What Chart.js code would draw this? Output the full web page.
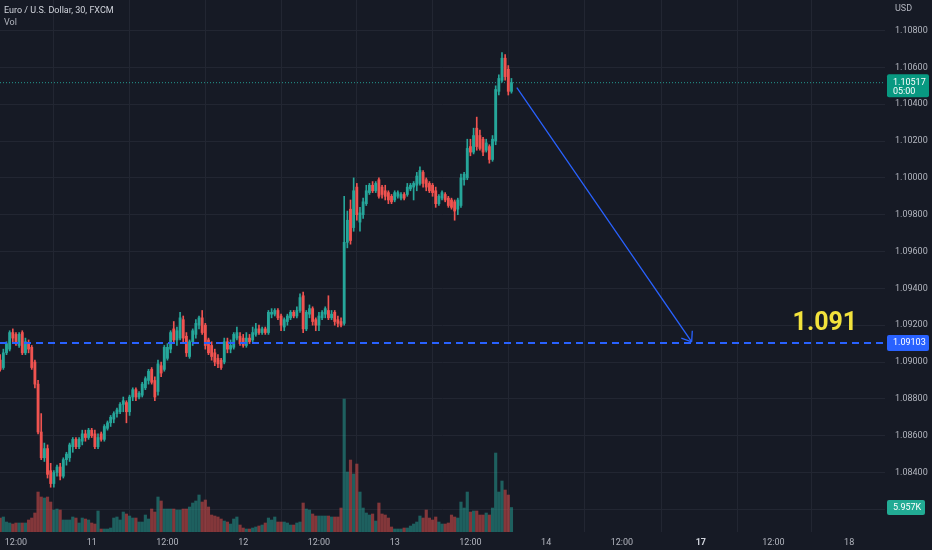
<!DOCTYPE html>
<html>
<head>
<meta charset="utf-8">
<title>EUR/USD 30m</title>
<script src="https://cdn.jsdelivr.net/npm/chart.js@4.4.1/dist/chart.umd.min.js"></script>
<style>
  html, body { margin: 0; padding: 0; background: #161a25; }
  #wrap { position: relative; width: 932px; height: 550px; overflow: hidden; }
  #chart { position: absolute; left: 0; top: 0; }
  .legend { position: absolute; left: 4px; top: 4px; font: 9px Roboto, "Noto Sans", sans-serif; line-height: 12px; color: #b2b5be; }
  .legend .sym { color: #d1d4dc; }
</style>
</head>
<body>
<div id="wrap">
  <canvas id="chart" width="932" height="550"></canvas>
  <div class="legend"><div class="sym">Euro / U.S. Dollar, 30, FXCM</div><div>Vol</div></div>
</div>
<script>
// --- data: 30 min candles, first bar = 10th 09:30, one slot per bar ---
const opens = [
  1.0901, 1.0897, 1.0905, 1.0907, 1.0916, 1.0915, 1.0909, 1.0916, 1.0905, 1.0910,
  1.0908, 1.0900, 1.0888, 1.0862, 1.0848, 1.0853, 1.0841, 1.0834, 1.0840, 1.0843,
  1.0838, 1.0847, 1.0848, 1.0854, 1.0858, 1.0854, 1.0857, 1.0861, 1.0859, 1.0863,
  1.0861, 1.0854, 1.0861, 1.0858, 1.0864, 1.0867, 1.0869, 1.0872, 1.0873, 1.0877,
  1.0878, 1.0873, 1.0881, 1.0885, 1.0881, 1.0882, 1.0886, 1.0890, 1.0896, 1.0890,
  1.0884, 1.0898, 1.0896, 1.0902, 1.0907, 1.0918, 1.0912, 1.0913, 1.0923, 1.0914,
  1.0903, 1.0911, 1.0915, 1.0920, 1.0924, 1.0920, 1.0912, 1.0909, 1.0905, 1.0902,
  1.0901, 1.0900, 1.0911, 1.0907, 1.0908, 1.0913, 1.0914, 1.0913, 1.0909, 1.0913,
  1.0912, 1.0915, 1.0918, 1.0916, 1.0918, 1.0916, 1.0926, 1.0926, 1.0928, 1.0925,
  1.0919, 1.0922, 1.0924, 1.0927, 1.0925, 1.0928, 1.0936, 1.0918, 1.0926, 1.0929,
  1.0923, 1.0920, 1.0924, 1.0926, 1.0928, 1.0924, 1.0927, 1.0923, 1.0922, 1.0921,
  1.0965, 1.0983, 1.0973, 1.0995, 1.0976, 1.0980, 1.0986, 1.0992, 1.0996, 1.0993,
  1.0999, 1.0995, 1.0993, 1.0992, 1.0990, 1.0988, 1.0990, 1.0989, 1.0991, 1.0991,
  1.0994, 1.0995, 1.0996, 1.0997, 1.1003, 1.0999, 1.0997, 1.0996, 1.0993, 1.0986,
  1.0989, 1.0991, 1.0989, 1.0988, 1.0987, 1.0983, 1.0985, 1.0999, 1.1000, 1.1017,
  1.1014, 1.1027, 1.1023, 1.1021, 1.1015, 1.1017, 1.1010, 1.1020, 1.1047, 1.1053,
  1.1065, 1.1059, 1.1047
];
const highs = [
  1.0904, 1.0907, 1.0911, 1.0917, 1.0918, 1.0916, 1.0916, 1.0917, 1.0913, 1.0912,
  1.0909, 1.0901, 1.0890, 1.0872, 1.0856, 1.0855, 1.0845, 1.0841, 1.0844, 1.0845,
  1.0848, 1.0851, 1.0856, 1.0859, 1.0859, 1.0859, 1.0863, 1.0863, 1.0864, 1.0864,
  1.0863, 1.0861, 1.0862, 1.0866, 1.0868, 1.0871, 1.0873, 1.0875, 1.0878, 1.0881,
  1.0879, 1.0882, 1.0886, 1.0886, 1.0884, 1.0889, 1.0892, 1.0896, 1.0897, 1.0892,
  1.0901, 1.0900, 1.0909, 1.0910, 1.0917, 1.0922, 1.0919, 1.0927, 1.0925, 1.0916,
  1.0912, 1.0918, 1.0923, 1.0925, 1.0928, 1.0921, 1.0913, 1.0911, 1.0907, 1.0904,
  1.0902, 1.0913, 1.0913, 1.0912, 1.0916, 1.0919, 1.0916, 1.0915, 1.0916, 1.0915,
  1.0919, 1.0921, 1.0920, 1.0919, 1.0919, 1.0928, 1.0929, 1.0929, 1.0929, 1.0926,
  1.0924, 1.0926, 1.0928, 1.0928, 1.0930, 1.0937, 1.0938, 1.0928, 1.0931, 1.0930,
  1.0924, 1.0927, 1.0928, 1.0930, 1.0936, 1.0928, 1.0928, 1.0925, 1.0924, 1.0990,
  1.0982, 1.0988, 1.1000, 1.0997, 1.0984, 1.0989, 1.0996, 1.0997, 1.0998, 1.0998,
  1.1000, 1.0996, 1.0996, 1.0993, 1.0991, 1.0993, 1.0993, 1.0992, 1.0992, 1.0997,
  1.0997, 1.0998, 1.1003, 1.1006, 1.1004, 1.1000, 1.0998, 1.0997, 1.0995, 1.0991,
  1.0993, 1.0992, 1.0990, 1.0989, 1.0988, 1.0989, 1.1002, 1.1003, 1.1021, 1.1021,
  1.1027, 1.1033, 1.1026, 1.1022, 1.1021, 1.1018, 1.1023, 1.1050, 1.1056, 1.1068,
  1.1067, 1.1061, 1.1054
];
const lows = [
  1.0895, 1.0896, 1.0904, 1.0906, 1.0911, 1.0909, 1.0908, 1.0904, 1.0904, 1.0905,
  1.0896, 1.0886, 1.0861, 1.0847, 1.0846, 1.0837, 1.0832, 1.0832, 1.0838, 1.0836,
  1.0837, 1.0844, 1.0846, 1.0851, 1.0853, 1.0853, 1.0855, 1.0857, 1.0858, 1.0859,
  1.0853, 1.0853, 1.0857, 1.0857, 1.0863, 1.0865, 1.0867, 1.0870, 1.0872, 1.0873,
  1.0867, 1.0871, 1.0879, 1.0879, 1.0880, 1.0881, 1.0885, 1.0888, 1.0888, 1.0879,
  1.0882, 1.0892, 1.0895, 1.0901, 1.0905, 1.0910, 1.0909, 1.0912, 1.0911, 1.0903,
  1.0902, 1.0909, 1.0913, 1.0918, 1.0915, 1.0907, 1.0904, 1.0901, 1.0898, 1.0897,
  1.0896, 1.0899, 1.0905, 1.0905, 1.0907, 1.0912, 1.0909, 1.0908, 1.0908, 1.0910,
  1.0911, 1.0914, 1.0915, 1.0915, 1.0915, 1.0915, 1.0924, 1.0925, 1.0923, 1.0917,
  1.0917, 1.0920, 1.0923, 1.0924, 1.0924, 1.0927, 1.0916, 1.0917, 1.0924, 1.0920,
  1.0917, 1.0917, 1.0923, 1.0924, 1.0923, 1.0923, 1.0920, 1.0919, 1.0919, 1.0920,
  1.0962, 1.0964, 1.0971, 1.0977, 1.0971, 1.0978, 1.0985, 1.0991, 1.0992, 1.0992,
  1.0989, 1.0989, 1.0988, 1.0986, 1.0986, 1.0987, 1.0989, 1.0988, 1.0988, 1.0990,
  1.0993, 1.0988, 1.0993, 1.0996, 1.0995, 1.0993, 1.0992, 1.0990, 1.0984, 1.0985,
  1.0988, 1.0987, 1.0984, 1.0983, 1.0977, 1.0980, 1.0984, 1.0996, 1.0999, 1.1012,
  1.1013, 1.1015, 1.1015, 1.1012, 1.1014, 1.1008, 1.1009, 1.1018, 1.1045, 1.1052,
  1.1053, 1.1045, 1.1046
];
const closes = [
  1.0896, 1.0905, 1.0910, 1.0916, 1.0913, 1.0910, 1.0915, 1.0905, 1.0911, 1.0907,
  1.0897, 1.0888, 1.0862, 1.0848, 1.0853, 1.0839, 1.0834, 1.0840, 1.0843, 1.0838,
  1.0847, 1.0850, 1.0855, 1.0858, 1.0854, 1.0858, 1.0861, 1.0859, 1.0863, 1.0860,
  1.0854, 1.0859, 1.0858, 1.0865, 1.0867, 1.0870, 1.0872, 1.0874, 1.0877, 1.0879,
  1.0873, 1.0881, 1.0885, 1.0881, 1.0883, 1.0888, 1.0891, 1.0895, 1.0889, 1.0881,
  1.0899, 1.0894, 1.0908, 1.0908, 1.0916, 1.0912, 1.0917, 1.0924, 1.0913, 1.0905,
  1.0911, 1.0917, 1.0921, 1.0924, 1.0916, 1.0909, 1.0905, 1.0903, 1.0900, 1.0899,
  1.0897, 1.0911, 1.0907, 1.0909, 1.0915, 1.0916, 1.0910, 1.0909, 1.0913, 1.0911,
  1.0916, 1.0918, 1.0916, 1.0918, 1.0916, 1.0927, 1.0927, 1.0928, 1.0924, 1.0920,
  1.0923, 1.0925, 1.0927, 1.0925, 1.0928, 1.0935, 1.0918, 1.0927, 1.0929, 1.0922,
  1.0920, 1.0925, 1.0927, 1.0929, 1.0924, 1.0926, 1.0922, 1.0921, 1.0920, 1.0965,
  1.0977, 1.0966, 1.0993, 1.0980, 1.0981, 1.0987, 1.0993, 1.0996, 1.0993, 1.0997,
  1.0990, 1.0991, 1.0990, 1.0988, 1.0987, 1.0992, 1.0992, 1.0991, 1.0989, 1.0995,
  1.0996, 1.0997, 1.1001, 1.1004, 1.0997, 1.0995, 1.0993, 1.0992, 1.0986, 1.0990,
  1.0992, 1.0988, 1.0985, 1.0984, 1.0982, 1.0988, 1.1000, 1.1002, 1.1016, 1.1014,
  1.1023, 1.1017, 1.1016, 1.1014, 1.1019, 1.1010, 1.1021, 1.1048, 1.1054, 1.1065,
  1.1055, 1.1047, 1.10517
];
// volume in thousands
const volumes = [
  3.40, 3.65, 2.43, 2.19, 1.94, 2.19, 2.19, 2.19, 2.19, 2.92,
  3.40, 4.62, 9.72, 8.51, 8.27, 8.51, 7.29, 5.35, 5.59, 5.35,
  2.92, 2.92, 2.92, 3.65, 3.40, 2.19, 3.40, 3.16, 2.92, 2.19,
  1.94, 5.11, 0.73, 0.73, 0.73, 0.97, 3.40, 3.65, 2.92, 4.86,
  4.38, 3.89, 3.40, 3.40, 2.43, 2.43, 4.13, 3.16, 5.59, 4.86,
  8.51, 7.54, 5.59, 5.59, 5.59, 5.59, 5.35, 5.35, 5.59, 5.59,
  6.08, 7.05, 7.54, 9.00, 7.29, 7.78, 6.08, 4.13, 3.89, 3.65,
  3.16, 2.67, 2.43, 1.94, 3.16, 3.65, 1.70, 0.97, 0.73, 0.73,
  0.97, 1.22, 1.46, 1.70, 2.19, 3.40, 2.92, 3.65, 2.43, 2.43,
  2.43, 2.19, 1.70, 1.70, 2.19, 2.43, 7.05, 5.59, 5.35, 4.38,
  3.89, 3.89, 3.89, 3.89, 3.89, 3.65, 3.65, 3.65, 5.83, 32.33,
  14.59, 17.50, 14.10, 16.53, 9.72, 5.83, 4.62, 4.13, 4.38, 2.67,
  7.05, 4.38, 4.13, 3.40, 1.22, 0.73, 0.73, 0.73, 0.97, 0.97,
  1.46, 1.94, 2.43, 3.89, 3.40, 5.35, 3.40, 2.92, 3.65, 2.43,
  1.94, 1.94, 2.19, 4.13, 3.65, 3.40, 7.29, 5.83, 9.72, 4.86,
  5.11, 5.11, 4.13, 4.13, 4.62, 4.13, 5.83, 19.20, 9.72, 12.40,
  10.21, 8.99, 5.957
];

// time axis: slot index -> label
const timeTickSlots = [5, 29, 53, 77, 101, 125, 149, 173, 197, 222, 245, 269];
const timeTickLabels = ["12:00", "11", "12:00", "12", "12:00", "13", "12:00", "14", "12:00", "17", "12:00", "18"];
const weekStartLabels = ["17"];

const priceTicks = [1.082, 1.084, 1.086, 1.088, 1.090, 1.092, 1.094, 1.096, 1.098, 1.100, 1.102, 1.104, 1.106, 1.108];
const priceTickLabels = ["", "1.08400", "1.08600", "1.08800", "1.09000", "1.09200", "1.09400", "1.09600",
  "1.09800", "1.10000", "1.10200", "1.10400", "1.10600", "1.10800"];

// drawing on the chart
const targetLevel = 1.09103;
const arrowFrom = { x: 163.7, y: 1.1049 };
const arrowTo = { x: 219.1, y: 1.0911 };
const targetLabelAt = { x: 261.3, y: 1.0921 };
const countdown = "05:00";

// --- styles ---
const UP = "#26a69a", DOWN = "#ef5350";
const UP_VOL = "rgba(38,166,154,0.5)", DOWN_VOL = "rgba(239,83,80,0.5)";
const BLUE = "#2962ff";
const GRID = "#222632";
const TEXT = "#b2b5be";
const FONT = "Roboto, 'Noto Sans', sans-serif";
const X_MIN = -0.06, X_MAX = 280.36;
const P_MIN = 1.08077, P_MAX = 1.10966;
const VOL_MAX = 129.35;

const lastIdx = closes.length - 1;
const lastClose = closes[lastIdx];
const lastVol = volumes[lastIdx];
const isUp = (i) => closes[i] >= opens[i];

const slots = closes.map((_, i) => i);
const bodyData = slots.map((i) => ({ x: i, y: [opens[i], closes[i]] }));
const wickData = slots.map((i) => ({ x: i, y: [lows[i], highs[i]] }));
const volData = slots.map((i) => ({ x: i, y: volumes[i] }));

Chart.defaults.font.family = FONT;

// no edge padding: plot area runs from the top of the canvas to the time axis
function noPadding(s) {
  s.paddingTop = 0;
  s.paddingBottom = 0;
  s.paddingLeft = 0;
  s.paddingRight = 0;
}

// arrow head, target text and the price-axis tags
const overlay = {
  id: "overlay",
  afterDatasetsDraw(chart) {
    const { ctx, scales: { x, y } } = chart;
    const x1 = x.getPixelForValue(arrowFrom.x), y1 = y.getPixelForValue(arrowFrom.y);
    const x2 = x.getPixelForValue(arrowTo.x), y2 = y.getPixelForValue(arrowTo.y);
    const ang = Math.atan2(y1 - y2, x1 - x2);
    ctx.save();
    ctx.strokeStyle = BLUE;
    ctx.lineWidth = 1.3;
    ctx.beginPath();
    [-0.62, 0.66].forEach((d) => {
      ctx.moveTo(x2, y2);
      ctx.lineTo(x2 + 11 * Math.cos(ang + d), y2 + 11 * Math.sin(ang + d));
    });
    ctx.stroke();

    ctx.fillStyle = "#f2e23c";
    ctx.font = "bold 25px " + FONT;
    ctx.textAlign = "center";
    ctx.textBaseline = "middle";
    ctx.fillText(targetLevel.toFixed(3), x.getPixelForValue(targetLabelAt.x), y.getPixelForValue(targetLabelAt.y));
    ctx.restore();
  },
  afterDraw(chart) {
    const { ctx, chartArea, scales: { y, vol } } = chart;
    const left = chartArea.right + 2;
    ctx.save();
    ctx.font = "9px " + FONT;
    ctx.textBaseline = "middle";
    ctx.textAlign = "left";
    ctx.fillStyle = TEXT;
    ctx.fillText("USD", chartArea.right + 10, 9);

    const tag = (py, h, top, w, color, lines) => {
      ctx.fillStyle = color;
      ctx.beginPath();
      ctx.roundRect(left, py - top, w, h, 2);
      ctx.fill();
      ctx.fillStyle = "#ffffff";
      lines.forEach((t, k) => ctx.fillText(t, left + 6, py + k * 9));
    };
    tag(y.getPixelForValue(lastClose), 23, 8.5, 42, "#089981", [lastClose.toFixed(5), countdown]);
    tag(y.getPixelForValue(targetLevel), 16, 8, 42, BLUE, [targetLevel.toFixed(5)]);
    tag(vol.getPixelForValue(lastVol), 15, 7.5, 38, "#22ab94", [lastVol.toFixed(3) + "K"]);
    ctx.restore();
  }
};

new Chart(document.getElementById("chart"), {
  type: "bar",
  data: {
    datasets: [
      {
        type: "line",
        data: [{ x: X_MIN, y: targetLevel }, { x: X_MAX, y: targetLevel }],
        borderColor: BLUE, borderWidth: 2, borderDash: [7, 5], pointRadius: 0, order: 0
      },
      {
        type: "line",
        data: [arrowFrom, arrowTo],
        borderColor: BLUE, borderWidth: 1.3, pointRadius: 0, order: 0
      },
      {
        data: bodyData, grouped: false, barThickness: 2.2, minBarLength: 1,
        backgroundColor: (c) => (isUp(c.dataIndex) ? UP : DOWN), order: 1
      },
      {
        data: wickData, grouped: false, barThickness: 1,
        backgroundColor: (c) => (isUp(c.dataIndex) ? UP : DOWN), order: 2
      },
      {
        data: volData, yAxisID: "vol", grouped: false, barThickness: 2.5,
        backgroundColor: (c) => (isUp(c.dataIndex) ? UP_VOL : DOWN_VOL), order: 3
      },
      {
        type: "line",
        data: [{ x: X_MIN, y: lastClose }, { x: X_MAX, y: lastClose }],
        borderColor: "rgba(38,166,154,0.9)", borderWidth: 1, borderDash: [1, 2], pointRadius: 0, order: 4
      }
    ]
  },
  options: {
    responsive: false,
    animation: false,
    events: [],
    layout: { padding: 0 },
    plugins: { legend: { display: false }, tooltip: { enabled: false } },
    scales: {
      x: {
        type: "linear", min: X_MIN, max: X_MAX, offset: false,
        grid: { color: GRID, drawTicks: false },
        border: { display: false },
        afterBuildTicks: (s) => { s.ticks = timeTickSlots.map((v) => ({ value: v })); },
        afterFit: (s) => { s.height = 18; noPadding(s); },
        ticks: {
          autoSkip: false, maxRotation: 0, padding: 5,
          callback: (v, i) => timeTickLabels[i],
          color: (c) => (weekStartLabels.includes(timeTickLabels[c.index]) ? "#d1d4dc" : TEXT),
          font: (c) => ({ size: 9, weight: weekStartLabels.includes(timeTickLabels[c.index]) ? "bold" : "normal" })
        }
      },
      y: {
        position: "right", min: P_MIN, max: P_MAX,
        grid: { color: GRID, drawTicks: false },
        border: { display: false },
        afterBuildTicks: (s) => { s.ticks = priceTicks.map((v) => ({ value: v })); },
        afterFit: (s) => { s.width = 47; noPadding(s); },
        ticks: { padding: 10, color: TEXT, font: { size: 9 }, callback: (v, i) => priceTickLabels[i] }
      },
      vol: { display: false, min: 0, max: VOL_MAX, afterFit: noPadding }
    }
  },
  plugins: [overlay]
});
</script>
</body>
</html>
